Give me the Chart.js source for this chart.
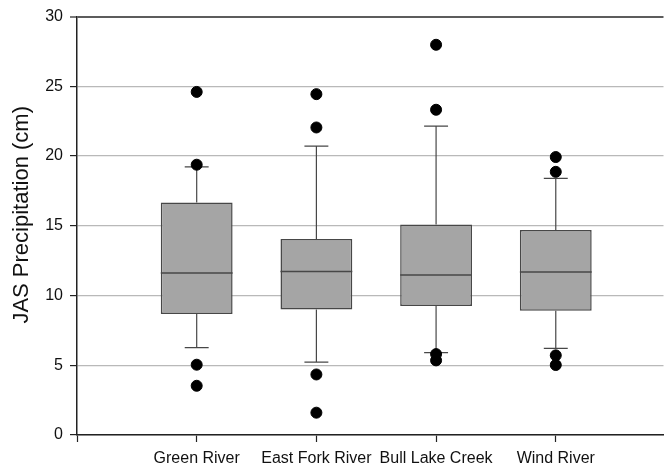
<!DOCTYPE html>
<html>
<head>
<meta charset="utf-8">
<script src="https://cdn.jsdelivr.net/npm/chart.js@4"></script>
<style>
  html, body { margin:0; padding:0; background:#fff; }
  #wrap { width:670px; height:473px; }
</style>
</head>
<body>
<div id="wrap"><canvas id="chart"></canvas></div>
<script>
const categories   = ['Green River', 'East Fork River', 'Bull Lake Creek', 'Wind River'];
const lowerWhisker = [6.26, 5.23, 5.9, 6.21];
const q1           = [8.67, 9.0, 9.25, 8.91];
const median       = [11.61, 11.73, 11.47, 11.68];
const q3           = [16.67, 14.05, 15.1, 14.7];
const upperWhisker = [19.23, 20.72, 22.15, 18.4];
const outliers     = [
  [24.6, 19.38, 5.04, 3.53],
  [24.44, 22.05, 4.34, 1.6],
  [27.98, 23.32, 5.8, 5.35],
  [19.93, 18.87, 5.71, 5.02]
];
const yTicks = [0, 5, 10, 15, 20, 25, 30];

const pos = categories.map((c, i) => i + 1);

// helper: list of segments -> points with null breaks
function segments(list) {
  const out = [];
  list.forEach(s => { out.push({x:s[0], y:s[1]}, {x:s[2], y:s[3]}, {x:s[2], y:null}); });
  return out;
}

const whiskers = segments(pos.flatMap((x, i) => [
  [x, q3[i], x, upperWhisker[i]],
  [x, q1[i], x, lowerWhisker[i]]
]));
const caps = segments(pos.flatMap((x, i) => [
  [x - 0.1, upperWhisker[i], x + 0.1, upperWhisker[i]],
  [x - 0.1, lowerWhisker[i], x + 0.1, lowerWhisker[i]]
]));
const medians = segments(pos.map((x, i) => [x - 0.3, median[i], x + 0.3, median[i]]));
const outlierPts = pos.flatMap((x, i) => outliers[i].map(v => ({x, y:v})));

const lineDs = (data, w) => ({
  type:'line', data, borderColor:'#474747', borderWidth:w,
  pointRadius:0, spanGaps:false, fill:false, order:1
});

// rotated y title
const yTitle = {
  id:'yTitle',
  afterDraw(chart) {
    const {ctx, chartArea} = chart;
    ctx.save();
    ctx.translate(22, (chartArea.top + chartArea.bottom) / 2 - 11);
    ctx.rotate(-Math.PI / 2);
    ctx.fillStyle = '#111';
    ctx.font = '22px "Liberation Sans", Arial, sans-serif';
    ctx.textAlign = 'center';
    ctx.textBaseline = 'middle';
    ctx.fillText('JAS Precipitation (cm)', 0, 0);
    ctx.restore();
  }
};

new Chart(document.getElementById('chart'), {
  type:'bar',
  data:{
    datasets:[
      { type:'scatter', data:outlierPts, backgroundColor:'#000', borderColor:'#000',
        pointRadius:5.5, pointHoverRadius:5.5, order:0 },
      lineDs(medians, 1.5),
      lineDs(whiskers, 1.2),
      lineDs(caps, 1.2),
      { type:'bar', data:pos.map((x, i) => ({x, y:[q1[i], q3[i]]})),
        backgroundColor:'#a5a5a5', borderColor:'#474747', borderWidth:1.5,
        borderSkipped:false, categoryPercentage:1, barPercentage:0.6, order:2 }
    ]
  },
  options:{
    responsive:true, maintainAspectRatio:false, animation:false,
    layout:{ padding:{ top:16, right:-7, left:0, bottom:0 } },
    plugins:{ legend:{ display:false }, tooltip:{ enabled:false } },
    scales:{
      x:{
        type:'linear', min:0, max:4.9, offset:false,
        afterBuildTicks: s => { s.ticks = [0, ...pos].map(v => ({value:v})); },
        afterFit: s => { s.height = 38; },
        ticks:{ autoSkip:false, maxRotation:0, padding:7, color:'#111',
          font:{ family:'"Liberation Sans", Arial, sans-serif', size:16 },
          callback: v => categories[v - 1] || '' },
        grid:{ offset:false, drawOnChartArea:false, drawTicks:true, tickLength:7, tickColor:'#222', tickWidth:1.2 },
        border:{ color:'#222', width:1.5 }
      },
      y:{
        min:0, max:30,
        afterBuildTicks: s => { s.ticks = yTicks.map(v => ({value:v})); },
        afterFit: s => { s.width = 77; },
        ticks:{ padding:7, color:'#111',
          font:{ family:'"Liberation Sans", Arial, sans-serif', size:16 } },
        grid:{
          color: c => c.tick.value === 30 ? '#5c5c5c' : '#b9b9b9',
          lineWidth: c => c.tick.value === 30 ? 2 : 1.2,
          tickLength:7, tickColor:'#222', tickWidth:1.2
        },
        border:{ color:'#222', width:1.5 }
      }
    }
  },
  plugins:[yTitle]
});
</script>
</body>
</html>
